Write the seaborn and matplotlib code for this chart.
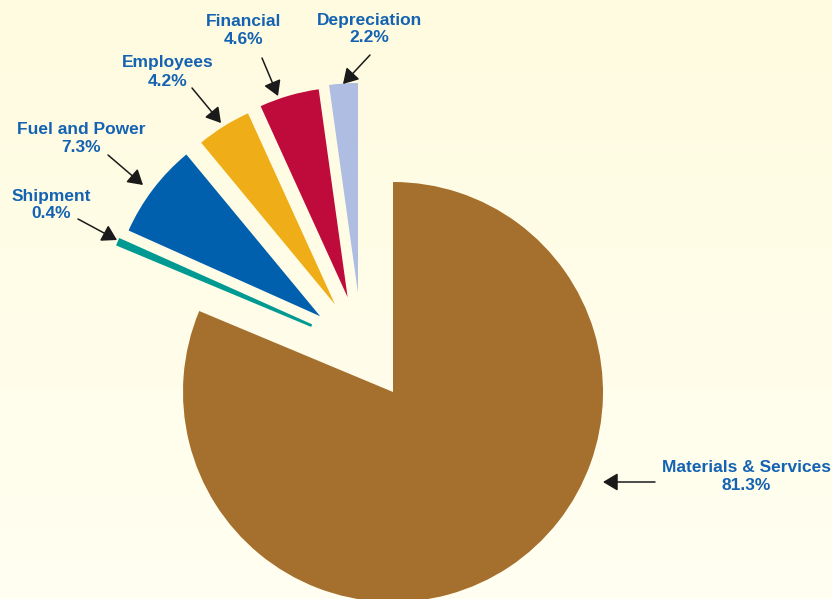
import numpy as np
import matplotlib
matplotlib.use("Agg")
import matplotlib.pyplot as plt
from matplotlib.colors import LinearSegmentedColormap
import seaborn as sns

# ---- data ----
categories = ["Materials & Services", "Shipment", "Fuel and Power",
              "Employees", "Financial", "Depreciation"]
shares = [81.3, 0.4, 7.3, 4.2, 4.6, 2.2]
labels = [f"{c}\n{v:.1f}%" for c, v in zip(categories, shares)]

# ---- style ----
colors = ["#A56F2E", "#009A92", "#0060AE", "#EFAE18", "#BE0B3B", "#AEBDE1"]
text_color = "#1463B2"
W, H = 832, 599
pie_center = (393, H - 392)
pie_radius = 210
explode_px = 105

# label block centres and arrows (pixel coordinates, y from top)
label_pos = [(746, 476), (51, 205), (81, 138), (168, 72), (244, 30), (369, 29)]
arrow_tail = [(655, 482), (78, 219), (108, 155), (192, 88), (262, 58), (370, 55)]
arrow_head = [(603, 482), (117, 240), (143, 185), (221, 123), (278, 96), (343, 84)]

sns.set_theme(style="white")
plt.rcParams["font.family"] = ["Liberation Sans", "DejaVu Sans"]

fig = plt.figure(figsize=(W / 100, H / 100), dpi=100)
ax = fig.add_axes([0, 0, 1, 1])

grad = np.linspace(0, 1, 256).reshape(-1, 1)
bg = LinearSegmentedColormap.from_list("bg", ["#FFFBE0", "#FFFFF1"])
ax.imshow(grad, extent=[0, W, 0, H], aspect="auto", cmap=bg,
          origin="upper", zorder=0)

wedges, _ = ax.pie(shares, colors=colors, startangle=90, counterclock=False,
                   center=pie_center, radius=pie_radius,
                   wedgeprops=dict(linewidth=0))
for w in wedges:
    w.set_zorder(2)
# slightly thicken the tiny Shipment sliver as in the reference
wedges[1].set_edgecolor(colors[1])
wedges[1].set_linewidth(2.0)

for w in wedges[1:]:
    mid = ((w.theta1 + w.theta2) / 2.0) % 360
    d = np.deg2rad(62.5 + 0.5 * mid)
    w.set_center((pie_center[0] + explode_px * np.cos(d),
                  pie_center[1] + explode_px * np.sin(d)))

for lab, (lx, ly), (tx, ty), (hx, hy) in zip(labels, label_pos, arrow_tail, arrow_head):
    ax.text(lx, H - ly, lab, ha="center", va="center", color=text_color,
            fontsize=12.5, fontweight="bold", linespacing=1.25, zorder=4)
    ax.annotate("", xy=(hx, H - hy), xytext=(tx, H - ty),
                arrowprops=dict(arrowstyle="-|>,head_length=0.5,head_width=0.3",
                                color="#1a1a1a", lw=1.1,
                                mutation_scale=18, shrinkA=0, shrinkB=0),
                zorder=4)

ax.set_xlim(0, W)
ax.set_ylim(0, H)
ax.set_aspect("auto")
ax.axis("off")

fig.savefig("out.png", dpi=100)
